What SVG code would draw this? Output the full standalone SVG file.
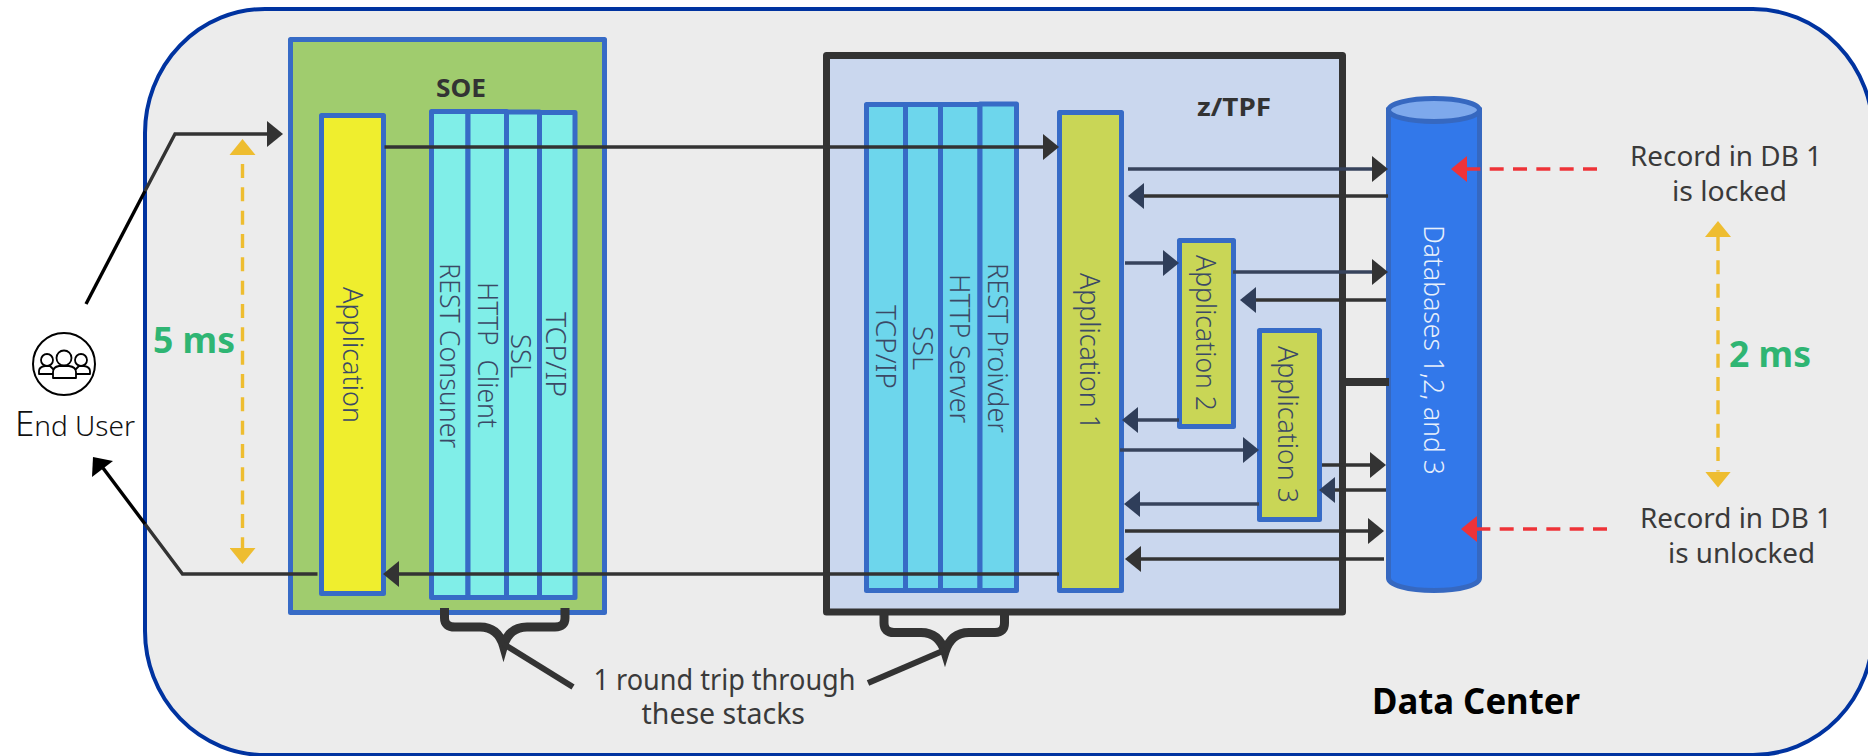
<svg xmlns="http://www.w3.org/2000/svg" width="1868" height="756" viewBox="0 0 1868 756">
<style>
.sans{font-family:"Noto Sans","Open Sans","Liberation Sans",sans-serif}
.ar{font-family:"Noto Sans","Liberation Sans",Arial,sans-serif;fill:#3b4966;font-size:27px;font-weight:300}
.blue{stroke:#376bc6;stroke-width:5;stroke-linejoin:round}
.cyan1{fill:#80eee8}.cyan2{fill:#6dd6ec}.olive{fill:#c9d656}
.lbl{fill:#3a3a3a;font-size:27px}
.ms{fill:#2fb573;font-size:35px;font-weight:700}
.hd{fill:#333;font-size:25px;font-weight:700}
.ln{fill:none;stroke:#333;stroke-width:3.4}
.nv{fill:none;stroke:#37435c;stroke-width:3.4}
.bk{fill:none;stroke:#000;stroke-width:3.4}
.yl{fill:none;stroke:#eebd30;stroke-width:3.4;stroke-dasharray:14 9.33}
.rd{fill:none;stroke:#ee3338;stroke-width:3.4;stroke-dasharray:14 9.33}
.br{fill:none;stroke:#333;stroke-width:9}
</style>
<defs>
<marker id="mD" markerUnits="userSpaceOnUse" markerWidth="16" markerHeight="26" refX="0" refY="13" orient="auto"><path d="M0 0L16 13L0 26Z" fill="#333"/></marker>
<marker id="mN" markerUnits="userSpaceOnUse" markerWidth="16" markerHeight="26" refX="0" refY="13" orient="auto"><path d="M0 0L16 13L0 26Z" fill="#2f3e5a"/></marker>
<marker id="mY" markerUnits="userSpaceOnUse" markerWidth="16" markerHeight="26" refX="0" refY="13" orient="auto"><path d="M0 0L16 13L0 26Z" fill="#eebd30"/></marker>
<marker id="mR" markerUnits="userSpaceOnUse" markerWidth="16" markerHeight="26" refX="0" refY="13" orient="auto"><path d="M0 0L16 13L0 26Z" fill="#ee3338"/></marker>
</defs>
<g id="data-center">
<rect x="145" y="9" width="1728" height="746" rx="120" ry="124" fill="#ececec" stroke="#0033a0" stroke-width="4"/>
<text x="1372" y="714" class="sans" font-size="35" font-weight="700" fill="#000" textLength="208" lengthAdjust="spacingAndGlyphs">Data Center</text>
</g>
<g id="soe">
<rect x="290.5" y="39.5" width="314" height="573" fill="#a0cc6e" class="blue"/>
<text x="436" y="97" class="sans hd" textLength="50" lengthAdjust="spacingAndGlyphs">SOE</text>
</g>
<g id="soe-application">
<rect x="321.5" y="115.5" width="62" height="478" fill="#efee2e" class="blue"/>
<text transform="translate(342.5 287) rotate(90)" class="ar" textLength="136" lengthAdjust="spacingAndGlyphs">Application</text>
</g>
<g id="soe-rest">
<rect x="431.5" y="111.5" width="36.5" height="486" class="blue cyan1"/>
<text transform="translate(440 263) rotate(90)" class="ar" textLength="185" lengthAdjust="spacingAndGlyphs">REST Consuner</text>
</g>
<g id="soe-http">
<rect x="468" y="111.5" width="38.5" height="486" class="blue cyan1"/>
<text transform="translate(478 282) rotate(90)" class="ar" textLength="146" lengthAdjust="spacingAndGlyphs" xml:space="preserve">HTTP  Client</text>
</g>
<g id="soe-ssl">
<rect x="506.5" y="112" width="33" height="485.5" class="blue cyan1"/>
<text transform="translate(511 334) rotate(90)" class="ar" textLength="44" lengthAdjust="spacingAndGlyphs">SSL</text>
</g>
<g id="soe-tcp">
<rect x="539.5" y="112.5" width="35.5" height="485" class="blue cyan1"/>
<text transform="translate(546 312) rotate(90)" class="ar" textLength="85" lengthAdjust="spacingAndGlyphs">TCP/IP</text>
</g>
<g id="ztpf">
<rect x="826.5" y="55.5" width="516" height="556.5" fill="#cad7ee" stroke="#333" stroke-width="7" stroke-linejoin="round"/>
<text x="1197" y="116" class="sans hd" textLength="74" lengthAdjust="spacingAndGlyphs">z/TPF</text>
</g>
<g id="ztpf-tcp">
<rect x="866.5" y="104.5" width="39" height="486" class="blue cyan2"/>
<text transform="translate(876 305) rotate(90)" class="ar" textLength="84" lengthAdjust="spacingAndGlyphs">TCP/IP</text>
</g>
<g id="ztpf-ssl">
<rect x="905.5" y="104.5" width="35" height="486" class="blue cyan2"/>
<text transform="translate(913 326) rotate(90)" class="ar" textLength="44" lengthAdjust="spacingAndGlyphs">SSL</text>
</g>
<g id="ztpf-http">
<rect x="940.5" y="104.5" width="39.5" height="486" class="blue cyan2"/>
<text transform="translate(950 274) rotate(90)" class="ar" textLength="149" lengthAdjust="spacingAndGlyphs">HTTP Server</text>
</g>
<g id="ztpf-rest">
<rect x="980" y="104" width="36.5" height="486.5" class="blue cyan2"/>
<text transform="translate(988 263) rotate(90)" class="ar" textLength="170" lengthAdjust="spacingAndGlyphs">REST Proivder</text>
</g>
<g id="application-1">
<rect x="1059.5" y="112.5" width="62" height="478" class="blue olive"/>
<text transform="translate(1080 273) rotate(90)" class="ar" textLength="157" lengthAdjust="spacingAndGlyphs">Application 1</text>
</g>
<g id="application-2">
<rect x="1179.5" y="240.5" width="54" height="186" class="blue olive"/>
<text transform="translate(1196 255) rotate(90)" class="ar" textLength="156" lengthAdjust="spacingAndGlyphs">Application 2</text>
</g>
<g id="application-3">
<rect x="1259.5" y="330.5" width="60" height="189" class="blue olive"/>
<text transform="translate(1278 346) rotate(90)" class="ar" textLength="157" lengthAdjust="spacingAndGlyphs">Application 3</text>
</g>
<g id="databases">
<path d="M1388.5 110V578C1388.5 585 1408 590.5 1434 590.5S1479.5 585 1479.5 578V110Z" fill="#3278ea" stroke="#3668c0" stroke-width="5"/>
<ellipse cx="1434" cy="110" rx="45.5" ry="11.5" fill="#7ea9ec" stroke="#3668c0" stroke-width="5"/>
<text transform="translate(1424 225) rotate(90)" class="ar" style="fill:#e8f0fc;font-size:28px" textLength="250" lengthAdjust="spacingAndGlyphs">Databases 1,2, and 3</text>
</g>
<g id="end-user">
<ellipse cx="64" cy="364" rx="31" ry="31" fill="#fff" stroke="#000" stroke-width="2"/>
<g fill="#fff" stroke="#000" stroke-width="1.8" stroke-linejoin="round">
<circle cx="47" cy="360" r="6"/><circle cx="81" cy="360" r="6"/>
<path d="M39 374V371Q39 367 45 366H50L54 370V374Z"/><path d="M90 374V371Q90 367 84 366H79L75 370V374Z"/>
<circle cx="64" cy="358" r="7.5"/>
<path d="M53 378V372Q53 367 59 366H69Q76 367 76 372V378Z"/>
</g>
<text x="15" y="436" class="sans" fill="#111" font-size="28" font-weight="300" textLength="120" lengthAdjust="spacingAndGlyphs"><tspan font-size="35">E</tspan>nd User</text>
</g>
<g id="notes">
<text x="1630" y="166" class="sans lbl" textLength="192" lengthAdjust="spacingAndGlyphs">Record in DB 1</text>
<text x="1672" y="201" class="sans lbl" textLength="115" lengthAdjust="spacingAndGlyphs">is locked</text>
<text x="1640" y="528" class="sans lbl" textLength="192" lengthAdjust="spacingAndGlyphs">Record in DB 1</text>
<text x="1668" y="563" class="sans lbl" textLength="147" lengthAdjust="spacingAndGlyphs">is unlocked</text>
<text x="153" y="353" class="sans ms" textLength="82" lengthAdjust="spacingAndGlyphs">5 ms</text>
<text x="1729" y="367" class="sans ms" textLength="82" lengthAdjust="spacingAndGlyphs">2 ms</text>
<text x="593.5" y="690" class="sans lbl" style="font-size:29px" textLength="262" lengthAdjust="spacingAndGlyphs">1 round trip through</text>
<text x="641.5" y="724" class="sans lbl" style="font-size:29px" textLength="163.5" lengthAdjust="spacingAndGlyphs">these stacks</text>
</g>
<g id="connectors">
<path class="bk" d="M86 304L145 191"/>
<path class="ln" d="M145 191L175 134H267" marker-end="url(#mD)"/>
<path class="ln" d="M384.5 147H1043" marker-end="url(#mD)"/>
<path class="ln" d="M1059 574H399" marker-end="url(#mD)"/>
<path class="ln" d="M317.5 574H182.5L145 524"/>
<path class="bk" d="M145 524L103 468"/>
<path d="M93 457L113 461L92 477Z" fill="#000"/>
<path class="nv" d="M1128 169H1372" marker-end="url(#mD)"/>
<path class="ln" d="M1388 196H1144" marker-end="url(#mN)"/>
<path class="nv" d="M1125 263H1163" marker-end="url(#mN)"/>
<path class="nv" d="M1233 272H1372" marker-end="url(#mD)"/>
<path class="ln" d="M1386 300H1256" marker-end="url(#mN)"/>
<path d="M1346 382H1389" fill="none" stroke="#333" stroke-width="8"/>
<path class="nv" d="M1179 420H1138" marker-end="url(#mN)"/>
<path class="nv" d="M1120 450H1243" marker-end="url(#mN)"/>
<path class="ln" d="M1322 465H1370" marker-end="url(#mD)"/>
<path class="ln" d="M1386 490H1335" marker-end="url(#mN)"/>
<path class="nv" d="M1259 504H1140" marker-end="url(#mN)"/>
<path class="ln" d="M1125 531H1368" marker-end="url(#mD)"/>
<path class="ln" d="M1384 559H1141" marker-end="url(#mD)"/>
<path class="yl" d="M242.5 164V548" marker-end="url(#mY)"/>
<path d="M229.5 155L242.5 139L255.5 155Z" fill="#eebd30"/>
<path class="yl" d="M1718 237V471.5" marker-end="url(#mY)"/>
<path d="M1705 237L1718 221L1731 237Z" fill="#eebd30"/>
<path class="rd" d="M1597 169H1467" marker-end="url(#mR)"/>
<path class="rd" d="M1607 529H1477" marker-end="url(#mR)"/>
<path class="br" d="M444.5 608V618Q444.5 627 455 627H480Q498 627 503.5 646Q509 627 527 627H555Q565 627 565 618V608"/>
<path class="br" d="M884 612V623Q884 632.5 894 632.5H921Q939 632.5 945 652Q951 632.5 969 632.5H995Q1004.5 632.5 1004.5 623V612"/>
<path d="M503.5 644L573 687" fill="none" stroke="#333" stroke-width="6"/>
<path d="M945 650L868 683" fill="none" stroke="#333" stroke-width="6"/>
</g>
</svg>
